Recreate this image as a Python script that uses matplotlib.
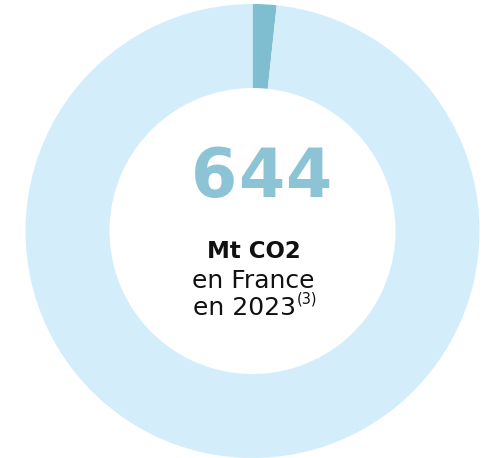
import matplotlib
matplotlib.use('Agg')
import matplotlib.pyplot as plt

# part mise en avant / reste du total
parts = [1.7, 98.3]
couleurs = ['#7fbdd0', '#d3eefa']
chiffre = '644'
lignes = ['Mt CO2', 'en France', 'en 2023']
renvoi = '(3)'

fig = plt.figure(figsize=(4.9, 4.58), dpi=100)
ax = fig.add_axes([0, 0, 1, 1])

ax.pie(parts, colors=couleurs, startangle=90, counterclock=False,
       radius=227, center=(252.5, 227),
       wedgeprops=dict(width=84, linewidth=0))

ax.set_xlim(0, 490)
ax.set_ylim(0, 458)
ax.set_aspect('equal')
ax.axis('off')

# gros chiffre, un peu espacé
for i, c in enumerate(chiffre):
    ax.text(214 + i * 47, 458 - 178, c, ha='center', va='center',
            fontsize=48, fontweight='bold', color='#8cc4d6')

ax.text(254, 458 - 258, lignes[0], ha='center', va='baseline',
        fontsize=16.5, fontweight='bold', color='#111111')
ax.text(253, 458 - 288, lignes[1], ha='center', va='baseline',
        fontsize=18, color='#111111')
ax.text(296, 458 - 315, lignes[2], ha='right', va='baseline',
        fontsize=18, color='#111111')
ax.text(297, 458 - 304, renvoi, ha='left', va='baseline',
        fontsize=10.5, color='#111111')

fig.savefig('out.png', dpi=100)
